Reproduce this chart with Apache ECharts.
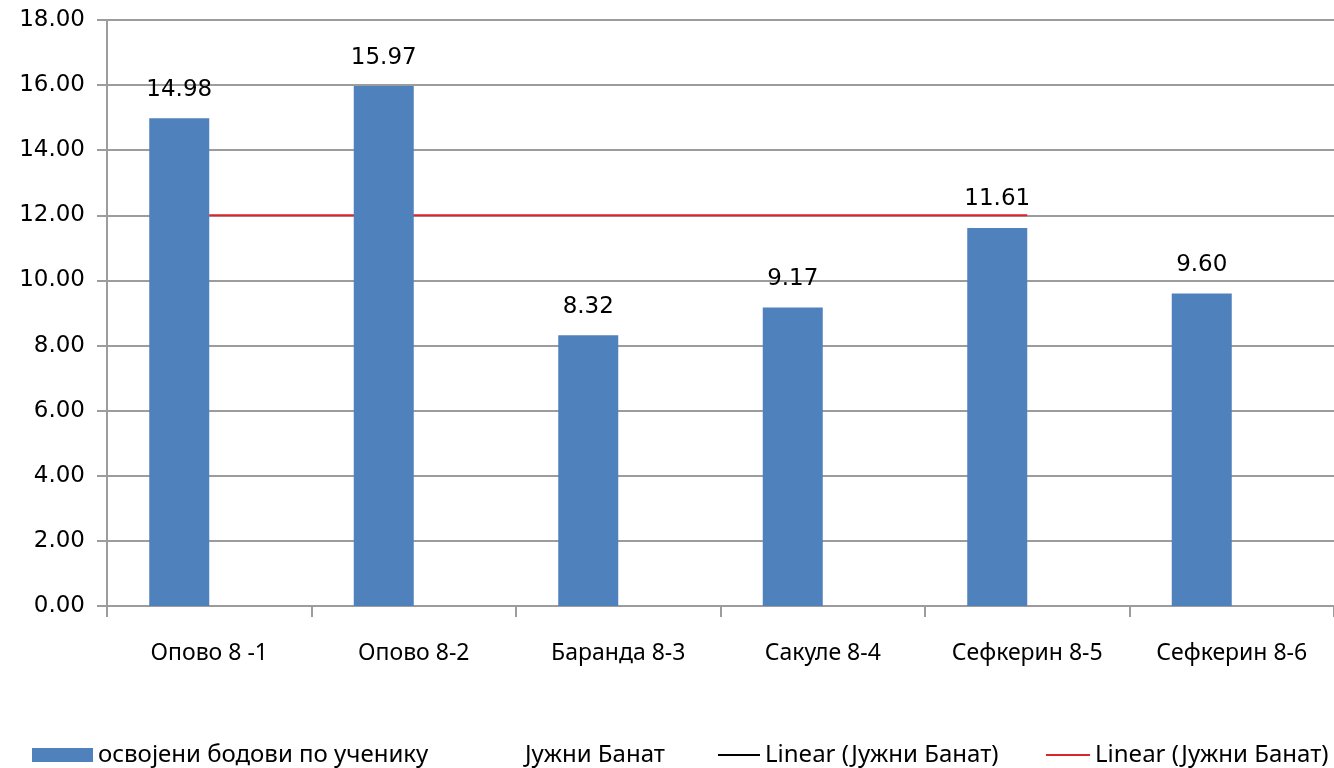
<!DOCTYPE html>
<html>
<head>
<meta charset="utf-8">
<script src="https://cdn.jsdelivr.net/npm/echarts@6/dist/echarts.min.js"></script>
<style>
  html, body { margin: 0; padding: 0; background: #fff; }
  #chart { width: 1334px; height: 768px; }
</style>
</head>
<body>
<div id="chart"></div>
<script>
// categories and values
const categories = ['Опово 8 -1', 'Опово 8-2', 'Баранда 8-3', 'Сакуле 8-4', 'Сефкерин 8-5', 'Сефкерин 8-6'];
const pointsPerPupil = [14.98, 15.97, 8.32, 9.17, 11.61, 9.60];
const southBanat = [];          // empty series, only in the legend
const linearBlack = [];         // empty trend line, only in the legend
const linearRed = [12, 12, 12, 12, 12, null];

const colors = {
  bar: '#4f81bd',
  grid: '#9c9c9c',
  red: '#d9262b',
  text: '#000',
};

const legendText = { fontFamily: 'Noto Sans', fontSize: 24, color: colors.text };
function legendAt(left, name, w, extra) {
  return Object.assign({
    left: left,
    top: 738,
    itemWidth: w,
    itemHeight: 14,
    itemGap: 0,
    textStyle: legendText,
    selectedMode: false,
    data: [name],
  }, extra || {});
}

const option = {
  animation: false,
  grid: { left: 107, right: -3, top: 20, bottom: 162 },
  legend: [
    legendAt(27, { name: 'освојени бодови по ученику', icon: 'rect' }, 61),
    legendAt(455, { name: 'Јужни Банат', icon: 'rect', itemStyle: { color: 'rgba(0,0,0,0)' } }, 60),
    legendAt(712, { name: 'Linear (Јужни Банат)', itemStyle: { opacity: 0 } }, 42),
    legendAt(1040, { name: 'Linear (Јужни Банат) ', itemStyle: { opacity: 0 } }, 44),
  ],
  xAxis: {
    type: 'category',
    data: categories,
    axisLine: { lineStyle: { color: colors.grid, width: 2 } },
    axisTick: { show: true, interval: 0, length: 11, lineStyle: { color: colors.grid, width: 2 } },
    axisLabel: { interval: 0, hideOverlap: false, margin: 36, fontFamily: 'Noto Sans', fontSize: 23, color: colors.text },
  },
  yAxis: {
    type: 'value',
    min: 0,
    max: 18,
    interval: 2,
    axisLine: { show: true, lineStyle: { color: colors.grid, width: 2 } },
    axisTick: { show: true, length: 10, lineStyle: { color: colors.grid, width: 2 } },
    splitLine: { lineStyle: { color: colors.grid, width: 2 } },
    axisLabel: {
      margin: 22,
      fontFamily: 'DejaVu Sans',
      fontSize: 23,
      color: colors.text,
      formatter: (v) => v.toFixed(2),
    },
  },
  series: [
    {
      name: 'освојени бодови по ученику',
      type: 'bar',
      data: pointsPerPupil,
      barWidth: 60,
      barGap: '0%',
      itemStyle: { color: colors.bar },
      label: {
        show: true,
        position: 'top',
        distance: 17,
        fontFamily: 'DejaVu Sans',
        fontSize: 23,
        color: colors.text,
        formatter: (p) => p.value.toFixed(2),
      },
    },
    {
      name: 'Јужни Банат',
      type: 'bar',
      data: southBanat,
      barWidth: 60,
      itemStyle: { color: 'rgba(0,0,0,0)' },
    },
    {
      name: 'Linear (Јужни Банат)',
      type: 'line',
      data: linearBlack,
      symbol: 'none',
      lineStyle: { color: '#000', width: 2 },
      itemStyle: { color: '#000' },
    },
    {
      name: 'Linear (Јужни Банат) ',
      type: 'line',
      data: linearRed,
      symbol: 'none',
      z: 1,
      lineStyle: { color: colors.red, width: 2 },
      itemStyle: { color: colors.red },
    },
  ],
};

const myChart = echarts.init(document.getElementById('chart'));
myChart.setOption(option);
</script>
</body>
</html>
